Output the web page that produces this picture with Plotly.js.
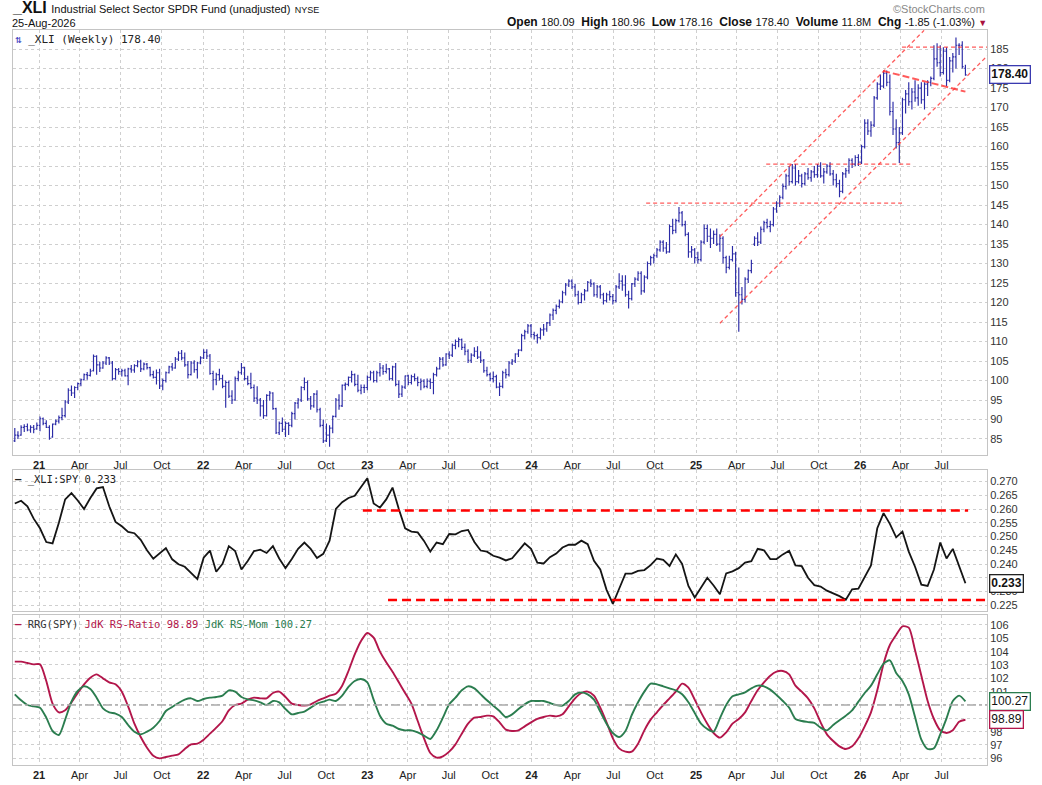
<!DOCTYPE html>
<html><head><meta charset="utf-8">
<script src="https://cdn.plot.ly/plotly-3.0.1.min.js"></script>
<style>html,body{margin:0;padding:0;background:#fff;}#chart{width:1042px;height:785px;}</style>
</head><body><div id="chart"></div>
<script>
// ---------- DATA (weekly bars) ----------
const firstWeek = [2020, 10, 8]; // 8-Nov-2020 (weekly)

const open = [
84.5,86,86,88, 88.2,87.3,88,87.6,
88.5,90.2,89,88, 85.5,88.8,89.6,90.5, 91,94.5,97.5,96.8,98.2, 99.2,100.2,101.5,101.3, 102.5,106.2,104,103.2,104.5, 105.8,104.5,100.5,102.8, 102.3,102.5,101.2,103, 102.7,103.8,104.8,103,104.2, 103.3,101.5,100.8,102, 98.6,100,102,103.5, 103.2,105.5,107,105.8,104, 101.5,104.5,102.8,104.5,
105.8,107.2,106.3,101.8,100.2, 101.5,100.5,98.5,99.5, 96,95,100.5,102, 103.3,100.5,99.2,98.2, 95.5,95,93.5,91,96.2, 96.8,92.8,86.6,89, 87.5,89,88.5,91.5, 94.2,95,98.2,99.5,95.3, 93.5,96.5,92.5,88.5, 84.5,86,87.8,90.8,95, 93.5,98.8,99,100.8, 101.5,99,97.5,98.2,
98.2,100.8,102,100,102, 103.2,102.3,103,100.5, 103.5,99,96.5,98.3, 101.2,99.5,101,100.5, 99.5,99.8,98.5,99.8,99.5, 101.5,103,105.5,104, 106.8,106.5,109,110,110.5, 108.5,107.5,105.2,106.5, 107.5,106,105.2,102.5, 101.5,100.5,101,98.3,98.5, 102,101.5,104.5,105, 106.8,107.8,111.5,112.5,
114,111.8,111.5,111,113, 113.2,114.8,116.8,118, 119,120.2,122.5,124.5, 125.5,124,122,120,122, 123,125.2,124.8,122, 124,122,120.5,122, 121.5,120.5,124,125.5,124.5, 122,121,124.8,126, 127.5,123,126.5,130,131.5, 132,133.5,135.5,134, 133,139.5,138.5,141, 143,140,137.5,133,133.5,
131.5,131,135.5,139, 137,136.5,137.5,135, 136.5,131.5,129,131,132.5, 122.5,122,120.8,126, 128.2,135,136.5,135.5, 138.8,140.5,139.5,140,144, 145.5,147,149.8,152.5, 151,154.5,151,152.5, 150.5,153,152,153.5,152.8, 155,152.5,153.5,155, 153,151.5,150.5,148.5, 153,153.8,156.5,155.5,157.2,
156,160,166,164, 165.5,172.5,176,175.5, 178.8,176.5,169,164.5,161, 163.5,172,173.5,171.5, 174,172.5,175,172, 176,176.5,177.5,182.5,181.5, 179,184.5,177,182, 183,186,186,180.09
];
const high = [
87.8,87,88.5,88.8, 89,88.5,88.6,89.2,
90.8,90.5,89.8,88.5, 89,90,91,93, 95,98,98.7,98.5,99.5, 100.5,101.8,102.2,103, 106.7,106.5,104.8,105,106.2, 106,105,103.2,103.2, 103,103,103.3,104, 104.2,105.2,105.3,104.6,104.5, 103.5,102.5,102.8,103, 100.5,102.3,103.8,104.5, 106,107.5,107.8,107.2,105, 105,105.2,104.8,106.2,
108,108,106.8,102.5,102, 103,101.5,100,100, 97.5,101,102.5,104.5, 103.5,101.2,102,99, 98.5,95.5,95,96.5,97.3, 97,93,89.5,90.5, 89.5,89.3,92,94.5, 95.5,98.5,100.8,100,96, 96.8,97.5,93,90, 89,88.5,91,95.5,96.5, 99,99.5,101,102.5, 101.8,101.5,99,99,
101.3,102.5,102.5,102.5,104.5, 104,104.3,103.2,103.8, 104.5,100,98.8,101.3, 101.5,101.5,101.8,101, 100.5,100.3,100.5,100.5,102, 103.5,106,106,107, 107.5,109.5,110.5,111,110.8, 109.5,108,107,108.5, 108.8,107.5,105.5,103.5, 102,102.3,101.5,99.5,102.5, 103,105,105.5,107, 108,112,113,114.5,
114.5,112.5,112,113.5,114.5, 115,117.2,118.5,119.5, 120.8,123,125,126, 126,124.8,123,122.5,123.5, 125.5,126,125.2,124.5, 124.5,122.5,122.5,123, 122.2,124.5,127.5,127,127, 123,125,126.5,128, 128,127,130.5,132,132.5, 134,136,136,135.5, 140,141.5,141.5,144.5, 143.5,141,138,134.5,134,
133,136,140,140, 139,138.5,139,137.5, 137,132,132,134.5,133, 129,124,126.5,128.5, 131,137,138,139.5, 141,141.5,141,144.5,146, 147.5,150.5,153,155, 155.5,155.5,154,153, 153.5,154.5,154,155,155.5, 156,154.5,155.5,156, 154,153,151.5,153.5, 154.5,157,157,157.8,158,
160.5,167,167,166.5, 173,176.5,178.5,179.5, 179.5,178.5,171.5,167,165, 172.5,174.5,176.5,175, 177,176,176.5,176.5, 177,178,186,186.5,186, 185.5,185.5,183,184, 188,186.5,187,180.96
];
const low = [
84.2,85,85.8,86.8, 87,86.6,86.5,87.4,
87,88.5,87.8,84.8, 85.3,88.5,89,89.8, 90.5,94,96,95.5,97.5, 98.5,100,100.2,101, 102.3,101.5,102.2,103,104, 104,100,100.2,101.5, 101,101,98.8,102, 102,103.4,102.2,102.6,102.8, 101,100.5,99,97.8, 97.5,99.5,101.8,102.5, 103,105,105.2,103.5,100.5, 101.3,102,100.5,104.2,
105.5,105.5,101.5,97.5,98.8, 100,98,93,95.5, 94,94.8,99.8,101.5, 100,98.8,97.8,94.5, 94,90.8,90.2,90.8,94.8, 92.5,86.3,86,86.8, 85.5,86,88,90, 92.8,94.5,97.5,94.8,92.5, 93,91.8,88,84, 84.2,83,86.5,90.5,92.5, 93.2,97.5,98.5,99.5, 98.5,97,96.5,96.8,
97.5,100,99.5,99.5,101, 101.5,101.8,100,100, 98.5,95.5,95.8,97.8, 98.8,99,99.8,98.5, 97.5,98,98,97.8,96.5, 101,102.8,103.5,103.8, 105.5,106,108,108.5,107.8, 106.5,104.5,104.5,106, 105.5,104.5,102,101, 99.8,99.5,98,96,98, 100.5,101,104,104.5, 106,107.5,110.5,112,
111,110.5,109.5,110.5,111.5, 112.5,114,115.5,117, 118.5,119.8,121.8,124, 123.5,121.5,119.5,119.8,120.5, 122.8,124,121.5,121.2, 121,119.5,120,120.5, 119.5,120,123.5,123,121.5, 118.5,120.5,124,125.5, 122,122.5,126,129.5,130, 131.5,133,133,132.5, 132.8,137.5,137.8,140.5, 139.5,137,131.5,131.5,130,
130,130.5,135,135.5, 134,135,134.5,133, 130,127.5,128.5,130.5,121.5, 112.5,119.5,120,125, 127.5,134.5,134.5,135, 138,139,138,139.5,143, 144.5,146.5,149,150, 150.5,150,150.5,149.5, 150,151.5,151,152,152, 152,150.5,153,152.5, 150,149.5,147,148, 152,153,154.5,155,155,
155.5,159.5,163,162.5, 165,172,174.5,175, 175.5,168,163,159.5,155.8, 163,168.5,170.5,169.5, 171.5,170.5,171,169.5, 173,175.5,177,180.5,178, 178.5,175.5,176.5,179, 180,183.5,180,178.16
];
const close = [
86,85.8,88,88.2, 87.3,88,87.5,88.5,
90.2,89,88,85.2, 88.8,89.6,90.5,91, 94.5,97.5,96.8,98.2,99.2, 100.2,101.5,101.3,102.4, 106.2,104,103.2,104.5,105.8, 104.5,100.5,102.8,102.3, 102.5,101.2,103,102.7, 103.8,104.8,103,104.2,103.3, 101.5,100.8,102,98.6, 100,102,103.5,103.2, 105.5,107,105.8,104,101.5, 104.5,102.8,104.5,105.8,
107.2,106.3,101.8,100.2,101.5, 100.5,98.5,99.5,96, 95,100.5,102,103.3, 100.5,99.2,98.2,95.5, 95,93.5,91,96.2,96.8, 92.8,86.6,89,87.5, 89,88.5,91.5,94.2, 95,98.2,99.5,95.3,93.5, 96.5,92.5,88.5,84.5, 86,87.8,90.8,95,93.5, 98.8,99,100.8,101.5, 99,97.5,98.2,98.2,
100.8,102,100,102,103.2, 102.3,103,100.5,103.5, 99,96.5,98.3,101.2, 99.5,101,100.5,99.5, 99.8,98.5,99.8,99.5,101.5, 103,105.5,104,106.8, 106.5,109,110,110.5,108.5, 107.5,105.2,106.5,107.5, 106,105.2,102.5,101.5, 100.5,101,98.3,98.5,102, 101.5,104.5,105,106.8, 107.8,111.5,112.5,114,
111.8,111.5,111,113,113.2, 114.8,116.8,118,119, 120.2,122.5,124.5,125.5, 124,122,120,122,123, 125.2,124.8,122,124, 122,120.5,122,121.5, 120.5,124,125.5,124.5,122, 121,124.8,126,127.5, 123,126.5,130,131.5,132, 133.5,135.5,134,133, 139.5,138.5,141,143, 140,137.5,133,133.5,131.5,
131,135.5,139,137, 136.5,137.5,135,136.5, 131.5,129,131,132.5,122.5, 122,120.8,126,128.2, 130,136.5,135.5,138.8, 140.5,139.5,140,144,145.5, 147,149.8,152.5,151, 154.5,151,152.5,150.5, 153,152,153.5,152.8,155, 152.5,153.5,155,153, 151.5,150.5,148.5,153, 153.8,156.5,155.5,157.2,156,
160,166,164,165.5, 172.5,176,175.5,178.8, 176.5,169,164.5,161,163.5, 172,173.5,171.5,174, 172.5,175,172,176, 176.5,177.5,182.5,181.5,179, 184.5,177,182,183, 186,186,180.5,178.40
];

// Relative strength XLI:SPY, one reading every two weeks
const rsXliSpy = [
0.262,0.263,0.261,0.2565,0.253,0.248,0.2475,0.255,0.2635,0.2658,
0.2631,0.260,0.264,0.2675,0.268,0.261,0.2553,0.2537,0.2517,0.2512,
0.2488,0.245,0.2419,0.2438,0.2458,0.2417,0.2399,0.239,0.2366,0.2345,
0.2423,0.2449,0.2372,0.2401,0.2465,0.2447,0.238,0.2411,0.2447,0.2452,
0.244,0.2465,0.242,0.2385,0.2418,0.2455,0.2478,0.2455,0.2422,0.2437,
0.2485,0.26,0.2625,0.264,0.2648,0.268,0.2712,0.262,0.2605,0.2635,
0.2678,0.26,0.253,0.2518,0.2515,0.2484,0.2445,0.2478,0.2472,0.2509,
0.2508,0.252,0.2524,0.248,0.2449,0.2445,0.243,0.2423,0.2413,0.2421,
0.2448,0.2475,0.2455,0.2405,0.2402,0.2425,0.2438,0.246,0.247,0.247,
0.2485,0.2472,0.2412,0.238,0.2306,0.2255,0.231,0.2365,0.2365,0.2375,
0.2378,0.2396,0.242,0.2415,0.2393,0.2435,0.24,0.232,0.2278,0.2312,
0.235,0.2322,0.229,0.2366,0.2373,0.2385,0.2405,0.241,0.2455,0.245,
0.2418,0.2418,0.2435,0.2448,0.2395,0.2392,0.235,0.2323,0.2318,0.2303,
0.2293,0.2283,0.227,0.2308,0.231,0.235,0.2395,0.253,0.2585,0.2546,
0.2497,0.2518,0.2445,0.239,0.2325,0.232,0.238,0.2478,0.242,0.2455,
0.2395,0.233
];
// RRG (SPY): JdK RS-Ratio and JdK RS-Momentum, every two weeks
const rsRatio = [
103.25,103.25,103.15,103.05,103.05,101.8,100.1,99.45,99.6,100.2,
100.9,101.55,102.05,102.3,102.0,101.7,101.55,101.0,99.9,98.6,
97.6,96.8,96.2,96.0,96.1,96.2,96.3,96.7,97.05,97.1,
97.4,97.85,98.3,98.8,99.6,100,100.1,100.4,100.55,100.5,
100.5,100.9,101.0,100.6,100.1,100,99.95,100.05,100.3,100.5,
100.7,100.85,101.45,102.55,103.8,104.8,105.4,105.05,104.0,103.2,
102.5,101.7,100.9,100.1,98.8,97.5,96.4,96.05,96.15,96.5,
97.05,97.85,98.6,99.05,99.1,99.2,99.15,98.7,98.15,98.05,
98.1,98.4,98.7,98.95,99.1,99.2,99.15,99.3,99.9,100.5,
100.9,101,100.7,99.8,98.7,97.5,96.75,96.5,96.5,97.1,
98.1,98.9,99.45,100.0,100.5,101.0,101.6,101.3,100.4,99.45,
98.6,97.9,97.55,97.95,98.6,98.95,99.45,100.3,101.1,101.7,
102.2,102.5,102.55,102.3,101.45,101.0,100.5,99.75,98.7,97.8,
97.3,96.9,96.7,96.9,97.5,98.4,99.45,101.1,103.1,104.5,
105.25,105.9,105.8,104.1,102.2,100.3,98.95,98.1,97.9,98.1,
98.75,98.89
];
const rsMom = [
100.8,100.35,100.0,99.9,99.8,99.05,98.05,97.75,98.9,100.25,
101.05,101.4,101.2,100.55,99.75,99.45,99.35,99.1,98.5,98.0,
97.8,98.0,98.3,98.8,99.55,99.85,100.15,100.4,100.5,100.3,
100.45,100.55,100.6,100.7,101.1,101.0,100.6,100.42,100.35,100.2,
100.0,100.3,100.2,99.7,99.3,99.4,99.5,99.8,100.1,100.25,
100.4,100.3,100.7,101.35,101.8,101.95,101.7,100.4,99.2,98.6,
98.45,98.2,98.1,98.1,97.95,97.7,97.45,98.1,99.05,100.05,
100.55,101.1,101.4,101.25,100.8,100.35,99.95,99.55,99.1,99.3,
99.7,100.05,100.3,100.3,100.3,100.15,100.0,99.95,100.3,100.8,
100.95,100.8,100.4,99.5,98.6,97.9,97.6,98.05,99.25,100.2,
101.0,101.6,101.55,101.4,101.25,101.1,100.8,100.2,99.4,98.6,
98.2,98.0,99.0,100.0,100.65,100.8,100.95,101.25,101.45,101.4,
101.15,100.75,100.3,99.8,98.95,98.8,98.72,98.65,98.3,98.1,
98.5,98.85,99.2,99.6,100.25,100.9,101.45,102.3,103.1,103.35,
102.4,101.8,100.8,99.1,97.4,96.7,96.75,97.8,99.0,100.3,
100.7,100.27
];

const xTickVals = ['2021-01-01','2021-04-01','2021-07-01','2021-10-01','2022-01-01','2022-04-01','2022-07-01','2022-10-01',
  '2023-01-01','2023-04-01','2023-07-01','2023-10-01','2024-01-01','2024-04-01','2024-07-01','2024-10-01',
  '2025-01-01','2025-04-01','2025-07-01','2025-10-01','2026-01-01','2026-04-01','2026-07-01'];
const xTickText = ['<b>21</b>','Apr','Jul','Oct','<b>22</b>','Apr','Jul','Oct','<b>23</b>','Apr','Jul','Oct',
  '<b>24</b>','Apr','Jul','Oct','<b>25</b>','Apr','Jul','Oct','<b>26</b>','Apr','Jul'];

// ---------- build ----------
const weeks = [];
const t0 = Date.UTC(firstWeek[0], firstWeek[1], firstWeek[2]);
for (let i = 0; i < close.length; i++) weeks.push(new Date(t0 + i * 7 * 86400000).toISOString().slice(0, 10));
const biWeeks = weeks.filter((d, i) => i % 2 === 0);

const BAR = '#2a2aa6', RATIO = '#b3164b', MOM = '#2b7d4f';
const FONT = 'Liberation Sans, Arial, sans-serif';
const MONO = 'DejaVu Sans Mono, monospace';
const xRange = ['2020-11-04', '2026-10-10'];

const traces = [
  {type:'ohlc', x:weeks, open:open, high:high, low:low, close:close, xaxis:'x', yaxis:'y',
   increasing:{line:{color:BAR, width:1.15}}, decreasing:{line:{color:BAR, width:1.15}}, tickwidth:0.4, hoverinfo:'skip'},
  {type:'scatter', mode:'lines', x:biWeeks, y:rsXliSpy, xaxis:'x2', yaxis:'y2', line:{color:'#151515', width:1.8}, hoverinfo:'skip'},
  {type:'scatter', mode:'lines', x:biWeeks, y:rsRatio, xaxis:'x3', yaxis:'y3', line:{color:RATIO, width:1.9, shape:'spline', smoothing:0.7}, hoverinfo:'skip'},
  {type:'scatter', mode:'lines', x:biWeeks, y:rsMom, xaxis:'x3', yaxis:'y3', line:{color:MOM, width:1.9, shape:'spline', smoothing:0.7}, hoverinfo:'skip'}
];

const gridX = {type:'date', range:xRange, tickvals:xTickVals, ticktext:xTickText, showgrid:true, gridcolor:'#cfcfcf', griddash:'dot', gridwidth:1,
  showline:true, mirror:true, linecolor:'#c4c4c4', linewidth:1, ticks:'', zeroline:false, tickfont:{family:FONT, size:11, color:'#222'}, fixedrange:true};
const gridY = {side:'right', showgrid:true, gridcolor:'#cfcfcf', griddash:'dot', gridwidth:1, showline:true, mirror:true, linecolor:'#c4c4c4', linewidth:1,
  ticks:'', zeroline:false, tickfont:{family:FONT, size:11, color:'#333'}, fixedrange:true};

const redP = {color:'rgba(255,50,50,0.8)', width:1.3, dash:'4px,3px'};
const redM = {color:'#ff0000', width:2.5, dash:'9px,5px'};
const shapes = [
  {type:'line', xref:'x', yref:'y', x0:'2024-09-12', x1:'2026-04-04', y0:145.5, y1:145.5, line:redP},
  {type:'line', xref:'x', yref:'y', x0:'2025-06-06', x1:'2026-04-29', y0:155.5, y1:155.5, line:redP},
  {type:'line', xref:'x', yref:'y', x0:'2026-04-04', x1:'2026-10-10', y0:185.5, y1:185.5, line:redP},
  {type:'line', xref:'x', yref:'y', x0:'2025-02-23', x1:'2026-05-23', y0:136.9, y1:189.8, line:redP},
  {type:'line', xref:'x', yref:'y', x0:'2025-02-23', x1:'2026-10-17', y0:114.7, y1:184.0, line:redP},
  {type:'line', xref:'x', yref:'y', x0:'2026-02-21', x1:'2026-08-23', y0:179.4, y1:174.1, line:{color:'rgba(255,50,50,0.8)', width:2, dash:'7px,3px'}},
  {type:'line', xref:'x2', yref:'y2', x0:'2022-12-22', x1:'2026-08-29', y0:0.2595, y1:0.2595, line:redM},
  {type:'line', xref:'x2', yref:'y2', x0:'2023-02-16', x1:'2026-10-10', y0:0.2269, y1:0.2269, line:redM},
  {type:'line', xref:'paper', yref:'y3', x0:0, x1:1, y0:100, y1:100, line:{color:'#aaaaaa', width:1.3, dash:'dashdot'}}
];

const ann = [];
ann.push({xref:'paper', yref:'paper', x:0, y:1, xanchor:'left', yanchor:'bottom', yshift:12, xshift:-3, showarrow:false,
  text:'<b>_XLI</b> <span style="font-size:11px">Industrial Select Sector SPDR Fund (unadjusted)</span> <span style="font-size:9px">NYSE</span>',
  font:{family:FONT, size:16, color:'#111'}});
ann.push({xref:'paper', yref:'paper', x:0, y:1, xanchor:'left', yanchor:'bottom', yshift:-1, xshift:-3, showarrow:false,
  text:'25-Aug-2026', font:{family:FONT, size:11, color:'#111'}});
ann.push({xref:'paper', yref:'paper', x:1, y:1, xanchor:'right', yanchor:'bottom', yshift:-1, xshift:2, showarrow:false,
  text:'<b>Open</b> <span style="font-size:11px">180.09</span>  <b>High</b> <span style="font-size:11px">180.96</span>  <b>Low</b> <span style="font-size:11px">178.16</span>  <b>Close</b> <span style="font-size:11px">178.40</span>  <b>Volume</b> <span style="font-size:11px">11.8M</span>  <b>Chg</b> <span style="font-size:11px">-1.85 (-1.03%)</span> <span style="color:#a8123e;font-size:9px">▼</span>',
  font:{family:FONT, size:12, color:'#111'}});
ann.push({xref:'paper', yref:'paper', x:1, y:1, xanchor:'right', yanchor:'bottom', yshift:13, xshift:0, showarrow:false,
  text:'©StockCharts.com', font:{family:FONT, size:11, color:'#888'}});
// panel legends
ann.push({xref:'paper', yref:'y domain', x:0, y:1, xanchor:'left', yanchor:'top', xshift:0, yshift:-1, showarrow:false,
  text:'<span style="color:#3a3ac0">⇅</span> _XLI (Weekly) 178.40', font:{family:MONO, size:11, color:'#222'}});
ann.push({xref:'paper', yref:'y2 domain', x:0, y:1, xanchor:'left', yanchor:'top', xshift:0, yshift:-1, showarrow:false,
  text:'<b>—</b> _XLI:SPY 0.233', font:{family:MONO, size:10.5, color:'#222'}});
ann.push({xref:'paper', yref:'y3 domain', x:0, y:1, xanchor:'left', yanchor:'top', xshift:0, yshift:-1, showarrow:false,
  text:'<span style="color:'+RATIO+'"><b>—</b></span> RRG(SPY) <span style="color:'+RATIO+'">JdK RS-Ratio 98.89</span> <span style="color:'+MOM+'">JdK RS-Mom 100.27</span>',
  font:{family:MONO, size:10.5, color:'#333'}});
// right-axis value flags (drawn over the axis labels, as in the reference)
function flag(yref, y, txt, col, bold) {
  ann.push({xref:'paper', yref:yref, x:1, y:y, xanchor:'left', yanchor:'middle', xshift:2, showarrow:false,
    text: bold ? '<b>'+txt+'</b>' : txt, font:{family:FONT, size:12, color:'#111'},
    bgcolor:'#ffffff', bordercolor:col, borderwidth:1.3, borderpad:1});
}
flag('y', close[close.length-1], close[close.length-1].toFixed(2), '#3a3ab0', true);
flag('y2', rsXliSpy[rsXliSpy.length-1], rsXliSpy[rsXliSpy.length-1].toFixed(3), '#222', true);
flag('y3', rsMom[rsMom.length-1], rsMom[rsMom.length-1].toFixed(2), MOM, false);
flag('y3', rsRatio[rsRatio.length-1], rsRatio[rsRatio.length-1].toFixed(2), RATIO, false);

const layout = {
  width:1042, height:785, margin:{l:13, r:55, t:30, b:20}, paper_bgcolor:'#fff', plot_bgcolor:'#fff',
  showlegend:false, hovermode:false, font:{family:FONT},
  xaxis: Object.assign({}, gridX, {anchor:'y', rangeslider:{visible:false}}),
  xaxis2: Object.assign({}, gridX, {anchor:'y2', showticklabels:false}),
  xaxis3: Object.assign({}, gridX, {anchor:'y3'}),
  yaxis: Object.assign({}, gridY, {domain:[0.4218, 1], range:[80.9, 189.9], dtick:5, tick0:0}),
  yaxis2: Object.assign({}, gridY, {domain:[0.2095, 0.4014], range:[0.2229, 0.2742], dtick:0.005, tick0:0, tickformat:'.3f'}),
  yaxis3: Object.assign({}, gridY, {domain:[0, 0.2041], range:[95.5, 106.75], dtick:1, tick0:0}),
  shapes: shapes, annotations: ann
};
Plotly.newPlot('chart', traces, layout, {staticPlot:true, displayModeBar:false});
</script></body></html>
